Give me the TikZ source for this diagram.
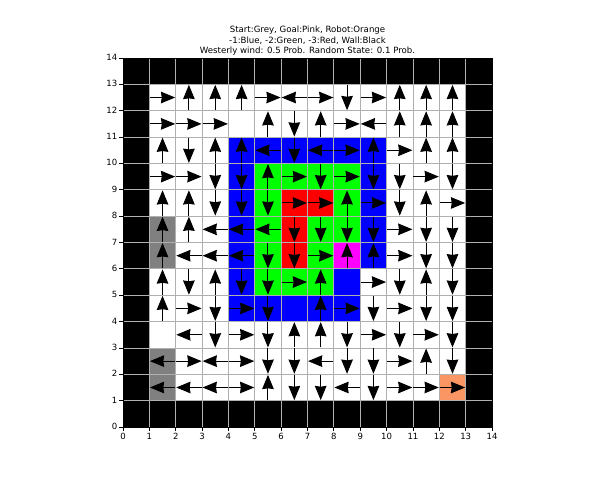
\documentclass[tikz,border=0pt]{standalone}
\usepackage{fontspec}
\setmainfont{DejaVu Sans}
\usetikzlibrary{arrows.meta}
\definecolor{gridgrey}{HTML}{B0B0B0}
\definecolor{startgrey}{HTML}{808080}
\definecolor{penblue}{HTML}{0000FF}
\definecolor{pengreen}{HTML}{00FF00}
\definecolor{penred}{HTML}{FF0000}
\definecolor{goalpink}{HTML}{FF00FF}
\definecolor{robotorange}{HTML}{FA9664}
\begin{document}
\begin{tikzpicture}[x=1cm,y=1cm,
  qarrow/.style={line width=1.05pt, -{Stealth[length=0.54cm,width=0.44cm,inset=0.03cm]}},
  gridline/.style={draw=gridgrey, line width=0.85pt},
  tickmark/.style={draw=black, line width=0.85pt},
  ticklabel/.style={font=\fontsize{9.2}{10}\selectfont, inner sep=0pt},
  titletext/.style={font=\fontsize{9.3}{11}\selectfont, inner sep=0pt, anchor=base}]
\useasboundingbox (-4.666,-2.011) rectangle (18.096,16.2);
% cells
\fill[black] (0,0) rectangle (14,14);
\fill[white] (1,1) rectangle (13,13);
\foreach \c/\r in {4/10,5/10,6/10,7/10,8/10,9/10,4/9,9/9,4/8,9/8,4/7,9/7,4/6,9/6,4/5,8/5,4/4,5/4,6/4,7/4,8/4}
  \fill[penblue] (\c,\r) rectangle ++(1,1);
\foreach \c/\r in {5/9,6/9,7/9,8/9,5/8,8/8,5/7,7/7,8/7,5/6,7/6,5/5,6/5,7/5}
  \fill[pengreen] (\c,\r) rectangle ++(1,1);
\foreach \c/\r in {6/8,7/8,6/7,6/6}
  \fill[penred] (\c,\r) rectangle ++(1,1);
\fill[goalpink] (8,6) rectangle ++(1,1);
\foreach \c/\r in {1/7,1/6,1/2,1/1}
  \fill[startgrey] (\c,\r) rectangle ++(1,1);
\fill[robotorange] (12,1) rectangle ++(1,1);
% grid
\foreach \i in {1,...,13} {
  \draw[gridline] (\i,0) -- (\i,14);
  \draw[gridline] (0,\i) -- (14,\i);
}
\draw[black, line width=0.85pt] (0,0) rectangle (14,14);
% arrows
\foreach \c/\r in {1/12,5/12,7/12,9/12,1/11,2/11,3/11,8/11,8/10,10/10,1/9,2/9,6/9,8/9,11/9,6/8,7/8,9/8,12/8,10/7,7/6,10/6,6/5,9/5,2/4,4/4,8/4,10/4,4/3,9/3,11/3,2/2,4/2,10/2,4/1,10/1,11/1,12/1}
  \draw[qarrow] ({\c+0.02},{\r+0.5}) -- ({\c+0.98},{\r+0.5});
\foreach \c/\r in {6/12,9/11,5/10,7/10,3/7,4/7,5/7,2/6,3/6,4/6,2/3,1/2,3/2,7/2,1/1,2/1,3/1,8/1}
  \draw[qarrow] ({\c+0.98},{\r+0.5}) -- ({\c+0.02},{\r+0.5});
\foreach \c/\r in {2/12,3/12,4/12,10/12,11/12,12/12,5/11,7/11,10/11,11/11,12/11,1/10,3/10,4/10,9/10,11/10,12/10,5/9,1/8,2/8,8/8,11/8,1/7,2/7,1/6,8/6,9/6,1/5,3/5,7/5,11/5,1/4,7/4,6/3,7/3,11/2,5/1}
  \draw[qarrow] ({\c+0.5},{\r+0.02}) -- ({\c+0.5},{\r+0.98});
\foreach \c/\r in {8/12,6/11,2/10,6/10,3/9,4/9,7/9,9/9,10/9,12/9,3/8,4/8,5/8,10/8,6/7,7/7,8/7,9/7,11/7,12/7,5/6,6/6,11/6,12/6,2/5,4/5,5/5,10/5,12/5,3/4,5/4,9/4,11/4,12/4,3/3,5/3,8/3,10/3,12/3,5/2,6/2,8/2,9/2,12/2,6/1,7/1,9/1}
  \draw[qarrow] ({\c+0.5},{\r+0.98}) -- ({\c+0.5},{\r+0.02});
% ticks and labels
\foreach \i in {0,...,14} {
  \draw[tickmark] (\i,0) -- (\i,-0.14);
  \draw[tickmark] (0,\i) -- (-0.14,\i);
  \node[ticklabel, anchor=base] at (\i,-0.455) {\i};
  \node[ticklabel, anchor=mid east] at (-0.21,\i) {\i};
}
% title
\node[titletext] (t1) at (7,14.96) {Start:Grey, Goal:Pink, Robot:Orange};
\node[titletext] (t2) at (7,14.56) {-1:Blue, -2:Green, -3:Red, Wall:Black};
\node[titletext] (t3) at (7,14.16) {Westerly wind: 0.5 Prob. Random State: 0.1 Prob.};
\end{tikzpicture}
\end{document}
